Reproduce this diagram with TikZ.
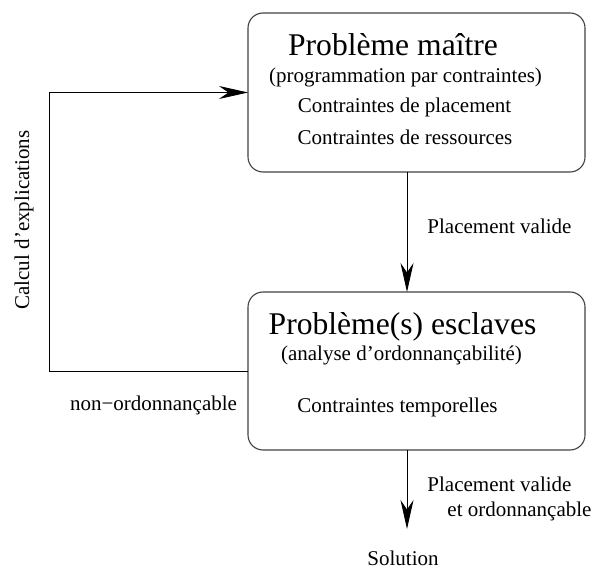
\documentclass[tikz,border=0pt]{standalone}
\usepackage{fontspec}
\setmainfont{Liberation Serif}
\usetikzlibrary{arrows.meta}

\begin{document}
\begin{tikzpicture}[x=1pt,y=1pt,line width=0.9pt,
  >={Stealth[length=29pt,width=13pt]},
  boite/.style={draw=black!75,line width=1.1pt,rounded corners=15pt,
    minimum width=337pt,inner sep=0pt,outer sep=0pt},
  titre/.style={font=\fontsize{31.6}{38}\selectfont,inner sep=0pt},
  texte/.style={font=\fontsize{21}{25}\selectfont,inner sep=0pt}]
\useasboundingbox (0,0) rectangle (594,571);
% les deux problemes
\node[boite,minimum height=159pt] (maitre) at (416.5,478.5) {};
\node[boite,minimum height=158pt] (esclave) at (416.5,200) {};
\node[titre] (tmaitre) at (393,526) {Problème maître};
\node[texte] (prog) at (405.5,494) {(programmation par contraintes)};
\node[texte] (placement) at (404.5,464) {Contraintes de placement};
\node[texte] (ressources) at (405,434) {Contraintes de ressources};
\node[titre] (tesclave) at (402.5,244) {Problème(s) esclaves};
\node[texte] (analyse) at (401.5,216) {(analyse d’ordonnançabilité)};
\node[texte] (temporelles) at (397.5,164) {Contraintes temporelles};
% sortie
\node[texte,anchor=base] (solution) at (403,6) {Solution};
\coordinate (fin) at (407,42);
\draw[->] (maitre.south -| fin) -- (esclave.north -| fin)
  node[texte,pos=0.45,anchor=west,xshift=20pt] (valide) {Placement valide};
\draw[->] (esclave.south -| fin) -- (fin);
\node[texte,anchor=west,align=left] (valideord) at (427,72)
  {Placement valide\\\hspace*{20pt}et ordonnançable};
% retour
\coordinate (boucle) at (49,0);
\draw[->] (esclave.west) -- (esclave.west -| boucle) |- (maitre.west);
\node[texte,rotate=90] (calcul) at (24,351) {Calcul d’explications};
\node[texte] (nonord) at (153.5,166) {non−ordonnançable};
\end{tikzpicture}
\end{document}
